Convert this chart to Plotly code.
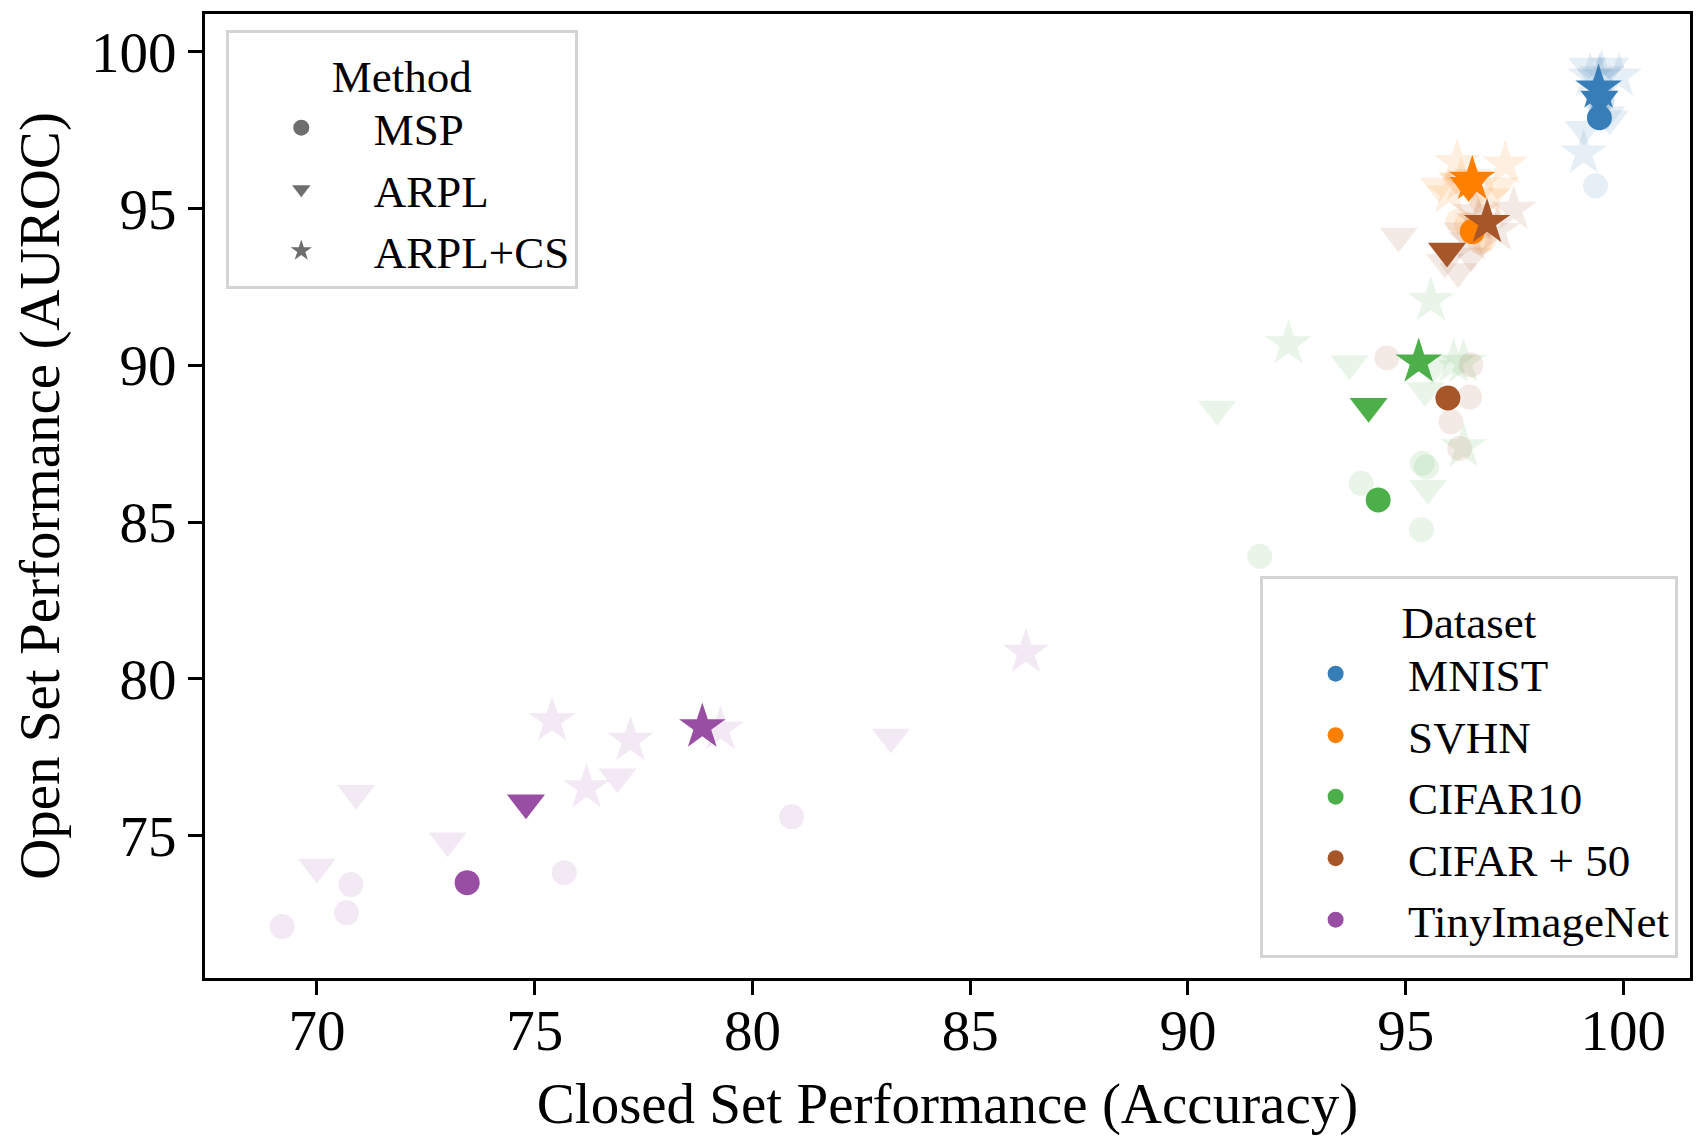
import plotly.graph_objects as go

# ---------------- data ----------------
datasets = ["MNIST", "SVHN", "CIFAR10", "CIFAR + 50", "TinyImageNet"]
methods = ["MSP", "ARPL", "ARPL+CS"]
colors = ["#377eb8", "#ff7f00", "#4daf4a", "#a65628", "#984ea3"]

# mean (solid) points, one per dataset
mean_acc_msp = [99.45, 96.53, 94.37, 95.97, 73.45]
mean_auroc_msp = [97.90, 94.27, 85.71, 88.96, 73.50]
mean_acc_arpl = [99.45, 96.45, 94.15, 95.95, 74.80]
mean_auroc_arpl = [98.50, 95.75, 88.70, 93.65, 76.05]
mean_acc_cs = [99.43, 96.53, 95.30, 96.87, 78.85]
mean_auroc_cs = [98.85, 95.94, 90.11, 94.56, 78.47]

# per-split (faint) points
mnist_msp_acc = [99.36, 99.45, 99.50, 99.42, 99.52]
mnist_msp_auroc = [95.73, 98.50, 98.40, 98.37, 98.50]
mnist_arpl_acc = [99.17, 99.70, 99.09, 99.60, 99.69]
mnist_arpl_auroc = [99.55, 99.55, 97.53, 98.00, 97.87]
mnist_cs_acc = [99.90, 99.24, 99.09, 99.50, 99.45]
mnist_cs_auroc = [99.23, 99.23, 96.77, 99.30, 99.21]

svhn_msp_acc = [96.20, 96.71, 96.80, 96.40, 96.54]
svhn_msp_auroc = [94.60, 93.93, 94.00, 94.50, 94.32]
svhn_arpl_acc = [95.76, 97.14, 96.60, 96.20, 96.55]
svhn_arpl_auroc = [95.73, 95.73, 95.40, 95.90, 96.00]
svhn_cs_acc = [96.18, 97.29, 96.00, 96.90, 96.28]
svhn_cs_auroc = [96.47, 96.42, 95.50, 95.40, 95.90]

cifar10_msp_acc = [95.38, 93.98, 95.36, 91.65, 95.48]
cifar10_msp_auroc = [86.88, 86.24, 84.76, 83.91, 86.76]
cifar10_arpl_acc = [90.67, 93.71, 95.45, 95.51, 95.60]
cifar10_arpl_auroc = [88.61, 90.05, 89.20, 86.08, 89.90]
cifar10_cs_acc = [92.31, 95.58, 96.10, 96.33, 96.33]
cifar10_cs_auroc = [90.69, 92.07, 90.10, 90.10, 87.40]

cifar50_msp_acc = [94.57, 96.50, 96.47, 96.04, 96.24]
cifar50_msp_auroc = [90.24, 90.02, 88.99, 88.20, 87.35]
cifar50_arpl_acc = [94.84, 95.90, 96.20, 96.50, 96.30]
cifar50_arpl_auroc = [94.13, 93.30, 93.00, 93.50, 94.30]
cifar50_cs_acc = [97.48, 96.60, 97.10, 96.50, 96.67]
cifar50_cs_auroc = [94.98, 94.90, 94.30, 94.00, 94.62]

tin_msp_acc = [69.20, 70.78, 70.68, 75.68, 80.90]
tin_msp_auroc = [72.10, 73.44, 72.54, 73.82, 75.60]
tin_arpl_acc = [70.00, 70.90, 73.00, 76.90, 83.18]
tin_arpl_auroc = [74.00, 76.35, 74.84, 76.88, 78.15]
tin_cs_acc = [75.40, 76.19, 77.20, 79.27, 86.28]
tin_cs_auroc = [78.66, 76.53, 78.04, 78.39, 80.85]

x_ticks = [70, 75, 80, 85, 90, 95, 100]
y_ticks = [75, 80, 85, 90, 95, 100]

# ---------------- figure ----------------
symbols = {"MSP": "circle", "ARPL": "triangle-down", "ARPL+CS": "star"}
sizes = {"MSP": 25, "ARPL": 33, "ARPL+CS": 35}
FAINT = 0.12


def rgba(hexc, a):
    h = hexc.lstrip("#")
    r, g, b = int(h[0:2], 16), int(h[2:4], 16), int(h[4:6], 16)
    return f"rgba({r},{g},{b},{a})"


splits = {
    "MNIST": {"MSP": (mnist_msp_acc, mnist_msp_auroc), "ARPL": (mnist_arpl_acc, mnist_arpl_auroc),
              "ARPL+CS": (mnist_cs_acc, mnist_cs_auroc)},
    "SVHN": {"MSP": (svhn_msp_acc, svhn_msp_auroc), "ARPL": (svhn_arpl_acc, svhn_arpl_auroc),
             "ARPL+CS": (svhn_cs_acc, svhn_cs_auroc)},
    "CIFAR10": {"MSP": (cifar10_msp_acc, cifar10_msp_auroc), "ARPL": (cifar10_arpl_acc, cifar10_arpl_auroc),
                "ARPL+CS": (cifar10_cs_acc, cifar10_cs_auroc)},
    "CIFAR + 50": {"MSP": (cifar50_msp_acc, cifar50_msp_auroc), "ARPL": (cifar50_arpl_acc, cifar50_arpl_auroc),
                   "ARPL+CS": (cifar50_cs_acc, cifar50_cs_auroc)},
    "TinyImageNet": {"MSP": (tin_msp_acc, tin_msp_auroc), "ARPL": (tin_arpl_acc, tin_arpl_auroc),
                     "ARPL+CS": (tin_cs_acc, tin_cs_auroc)},
}
means = {
    "MSP": (mean_acc_msp, mean_auroc_msp),
    "ARPL": (mean_acc_arpl, mean_auroc_arpl),
    "ARPL+CS": (mean_acc_cs, mean_auroc_cs),
}

fig = go.Figure()

# faint split points first
for di, ds in enumerate(datasets):
    for m in methods:
        xs, ys = splits[ds][m]
        fig.add_trace(go.Scatter(
            x=xs, y=ys, mode="markers", showlegend=False, hoverinfo="skip",
            marker=dict(symbol=symbols[m], size=sizes[m], color=rgba(colors[di], FAINT),
                        line=dict(width=0)),
        ))

# solid mean points on top
for di, ds in enumerate(datasets):
    for m in methods:
        mx, my = means[m]
        fig.add_trace(go.Scatter(
            x=[mx[di]], y=[my[di]], mode="markers", showlegend=False,
            marker=dict(symbol=symbols[m], size=sizes[m], color=colors[di], line=dict(width=0)),
        ))

# legend-only entries
for m in methods:
    fig.add_trace(go.Scatter(
        x=[None], y=[None], mode="markers", name=m, legend="legend",
        marker=dict(symbol=symbols[m], size=16, color="#6e6e6e", line=dict(width=0)),
    ))
for di, ds in enumerate(datasets):
    fig.add_trace(go.Scatter(
        x=[None], y=[None], mode="markers", name=ds, legend="legend2",
        marker=dict(symbol="circle", size=16, color=colors[di], line=dict(width=0)),
    ))

FONT = "Liberation Serif"
axis_common = dict(
    showline=True, mirror=True, linecolor="black", linewidth=3,
    ticks="outside", ticklen=14, tickwidth=2.5, tickcolor="black",
    showgrid=False, zeroline=False,
    tickfont=dict(family=FONT, size=57, color="black"),
)

# the page body adds an 8px offset, so the figure is 8px smaller than the window
fig.update_layout(
    width=1699, height=1128,
    margin=dict(l=197, r=17, t=3, b=158),
    paper_bgcolor="white", plot_bgcolor="white",
    font=dict(family=FONT, size=45, color="black"),
    xaxis=dict(range=[67.43, 101.53], tickvals=x_ticks, ticktext=[str(v) for v in x_ticks],
               ticklabelstandoff=-13,
               title=dict(text="Closed Set Performance (Accuracy)",
                          font=dict(family=FONT, size=57, color="black"), standoff=23),
               **axis_common),
    yaxis=dict(range=[70.46, 101.21], tickvals=y_ticks, ticktext=[str(v) for v in y_ticks],
               title=dict(text="Open Set Performance (AUROC)",
                          font=dict(family=FONT, size=57, color="black"), standoff=15),
               **axis_common),
    legend=dict(
        x=0.014, y=0.983, xanchor="left", yanchor="top",
        bgcolor="white", bordercolor="#d4d4d4", borderwidth=3,
        font=dict(family=FONT, size=45, color="black"),
        title=dict(text="Method", side="top center", font=dict(family=FONT, size=45)),
        itemwidth=135, traceorder="normal",
    ),
    legend2=dict(
        x=0.992, y=0.0203, xanchor="right", yanchor="bottom",
        bgcolor="white", bordercolor="#d4d4d4", borderwidth=3,
        font=dict(family=FONT, size=45, color="black"),
        title=dict(text="Dataset", side="top center", font=dict(family=FONT, size=45)),
        itemwidth=135, traceorder="normal",
    ),
)

fig.write_html("out.html")
